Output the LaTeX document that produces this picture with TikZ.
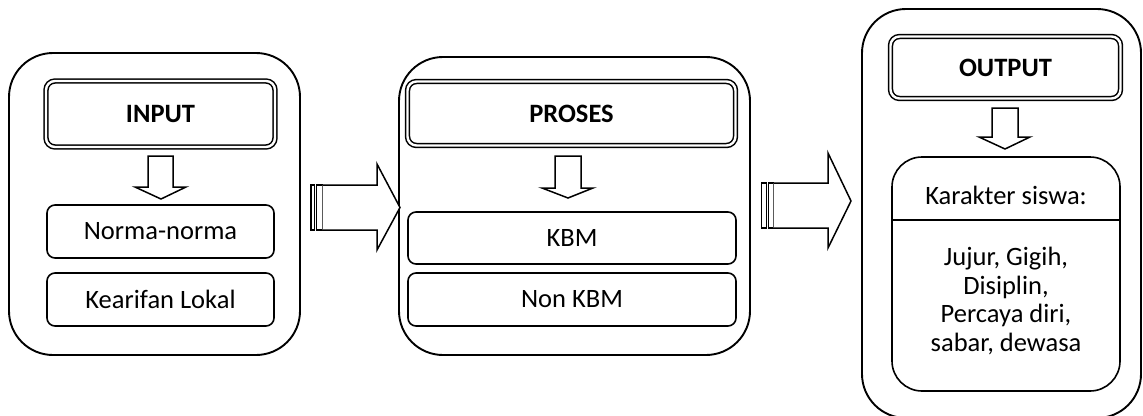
\documentclass[tikz,border=0pt]{standalone}
\usepackage{fontspec}
\setmainfont{Carlito}
\begin{document}
\begin{tikzpicture}[x=1pt,y=-1pt,
  outerbox/.style={draw, line width=1.9pt, rounded corners=44pt, inner sep=0pt},
  headbox/.style={draw, line width=1.5pt, double, double distance=2.4pt, rounded corners=9pt, inner sep=0pt, font=\fontsize{26.5}{29}\selectfont\bfseries},
  itembox/.style={draw, line width=1.6pt, rounded corners=8pt, inner sep=0pt, font=\fontsize{26.5}{29}\selectfont},
  blockarrow/.style={draw, line width=1.5pt, fill=white, line join=miter}
]
\useasboundingbox (0,0) rectangle (1143,415);
% outer containers
\node[outerbox, minimum width=291pt, minimum height=302pt] (c1) at (154.5,204) {};
\node[outerbox, minimum width=351pt, minimum height=298pt] (c2) at (574.5,206) {};
\node[outerbox, minimum width=279pt, minimum height=409pt] (c3) at (1001.5,213.5) {};
% heading boxes
\node[headbox, minimum width=229pt, minimum height=66pt] (hin) at (160.5,114) {INPUT};
\node[headbox, minimum width=328pt, minimum height=64pt] (hpr) at (571.5,113.5) {PROSES};
\node[headbox, minimum width=230pt, minimum height=62pt] (hout) at (1005.5,67.5) {OUTPUT};
% items
\node[itembox, minimum width=227pt, minimum height=53pt] (norma) at (160.5,231.5) {Norma-norma};
\node[itembox, minimum width=227pt, minimum height=53pt] (kearifan) at (160.5,299.5) {Kearifan Lokal};
\node[itembox, minimum width=328pt, minimum height=52pt] (kbm) at (572,238) {KBM};
\node[itembox, minimum width=328pt, minimum height=53pt] (nonkbm) at (572,299.5) {Non KBM};
% karakter box
\node[draw, line width=1.6pt, rounded corners=30pt, minimum width=228pt, minimum height=234pt, inner sep=0pt] (kar) at (1006,274) {};
\node[font=\fontsize{26.5}{29}\selectfont, inner sep=0pt] (kartitle) at (1006,195) {Karakter siswa:};
\draw[line width=1.5pt] (kar.west |- 0,220) coordinate (dl) -- (kar.east |- 0,220) coordinate (dr);
\node[font=\fontsize{26.5}{28.5}\selectfont, align=center, inner sep=0pt] (karbody) at (1006,301) {Jujur, Gigih,\\Disiplin,\\Percaya diri,\\sabar, dewasa};
% down block arrows
\draw[blockarrow] (148,156) -- (173,156) -- (173,187) -- (186,187) -- (161,199) -- (135,187) -- (148,187) -- cycle;
\draw[blockarrow] (555,156) -- (581,156) -- (581,188) -- (593,188) -- (568,198) -- (542,188) -- (555,188) -- cycle;
\draw[blockarrow] (992,108) -- (1018,108) -- (1018,137) -- (1030,137) -- (1005,149) -- (979,137) -- (992,137) -- cycle;
% right block arrows
\draw[blockarrow] (311,185) rectangle (314.5,230);
\draw[blockarrow] (316.5,185) rectangle (322.5,230);
\draw[blockarrow] (322.5,185) -- (377,185) -- (377,164) -- (400,207.5) -- (377,250) -- (377,230) -- (322.5,230);
\draw[blockarrow] (761.5,183) rectangle (766.5,228);
\draw[blockarrow] (768.5,183) rectangle (773.5,228);
\draw[blockarrow] (773.5,183) -- (828,183) -- (828,153) -- (851,201) -- (828,248) -- (828,228) -- (773.5,228);
\end{tikzpicture}
\end{document}
